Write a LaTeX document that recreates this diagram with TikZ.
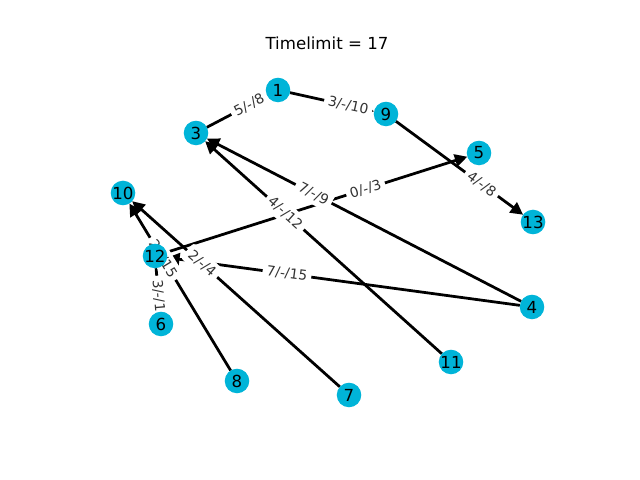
\documentclass[tikz,border=0pt]{standalone}
\usepackage{fontspec}
\setmainfont{DejaVu Sans}
\usetikzlibrary{arrows.meta,backgrounds}
\definecolor{nodecyan}{RGB}{0,180,216}

\begin{document}
\begin{tikzpicture}[x=0.01in,y=-0.01in]
\useasboundingbox (0,0) rectangle (640,480);

\tikzset{VertexStyle/.style = {
 shape = circle,
 fill = nodecyan,
 text = black,
 font = \fontsize{12}{14}\selectfont,
 inner sep = 0pt,
 outer sep = 0pt,
 minimum size = 0.245in} }

\node[VertexStyle] (V1) at (278,90) {1};
\node[VertexStyle] (V3) at (196,133) {3};
\node[VertexStyle] (V4) at (532,307) {4};
\node[VertexStyle] (V5) at (479,153) {5};
\node[VertexStyle] (V6) at (161,324) {6};
\node[VertexStyle] (V7) at (349,395) {7};
\node[VertexStyle] (V8) at (237,381) {8};
\node[VertexStyle] (V9) at (386,114) {9};
\node[VertexStyle] (V10) at (123,193) {10};
\node[VertexStyle] (V11) at (451,362) {11};
\node[VertexStyle] (V12) at (155,256) {12};
\node[VertexStyle] (V13) at (533,222) {13};

\node[font=\fontsize{12}{14}\selectfont] (Title) at (327,43) {Timelimit = 17};

\tikzset{EdgeStyle/.style = {line width=2pt, -{Triangle[length=9pt,width=9pt]}} }
\tikzset{LabelStyle/.style = {
 fill = white,
 rounded corners = 2pt,
 inner sep = 3pt,
 sloped,
 pos = 0.65,
 text = black!80,
 font = \fontsize{10}{12}\selectfont} }

\begin{pgfonlayer}{background}
\foreach \s/\t/\r/\d in {3/1/5/8, 1/9/3/10, 9/13/4/8, 12/5/0/3, 4/3/7/9,
  11/3/4/12, 4/12/7/15, 8/10/2/15, 7/10/2/4, 12/6/3/11}
  \draw[EdgeStyle] (V\s) -- (V\t);
\foreach \s/\t/\r/\d in {3/1/5/8, 1/9/3/10, 9/13/4/8, 12/5/0/3, 4/3/7/9,
  11/3/4/12, 4/12/7/15, 8/10/2/15, 7/10/2/4, 12/6/3/11}
  \path (V\s.center) -- node[LabelStyle] {\r/-/\d} (V\t.center);
\end{pgfonlayer}

\end{tikzpicture}
\end{document}
